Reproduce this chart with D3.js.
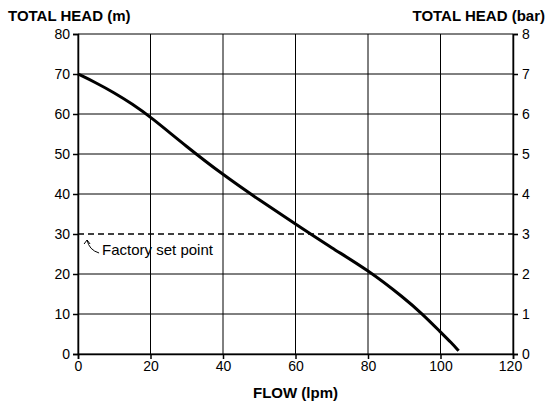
<!DOCTYPE html>
<html><head><meta charset="utf-8">
<script src="https://cdn.jsdelivr.net/npm/d3@7"></script>
<style>body{margin:0;background:#fff}text{font-family:Arial,"Liberation Sans",sans-serif}</style>
</head><body><svg id="chart" width="551" height="407"></svg>
<script>
const flow = [0, 5, 10, 15, 20, 30, 40, 50, 60, 70, 80, 90, 95, 100, 103, 105];
const headM = [70, 67.8, 65.3, 62.5, 59.3, 51.8, 44.8, 38.5, 32.5, 26.5, 21, 14, 10, 5.5, 2.8, 0.8];
const xTicks = [0, 20, 40, 60, 80, 100, 120];
const yTicks = [0, 10, 20, 30, 40, 50, 60, 70, 80];
const barTicks = [0, 1, 2, 3, 4, 5, 6, 7, 8];
const setPoint = 30;

const svg = d3.select('#chart');
const m = {l: 78, r: 38, t: 34, b: 53};
const w = 551 - m.l - m.r, h = 407 - m.t - m.b;
const x = d3.scaleLinear().domain([0, 120]).range([0, w]);
const y = d3.scaleLinear().domain([0, 80]).range([h, 0]);
const y2 = d3.scaleLinear().domain([0, 8]).range([h, 0]);
const g = svg.append('g').attr('transform', `translate(${m.l},${m.t})`);

// grid
g.selectAll('.vg').data(xTicks).enter().append('line')
  .attr('x1', d => x(d)).attr('x2', d => x(d)).attr('y1', 0).attr('y2', h)
  .attr('stroke', '#000').attr('stroke-width', 1);
g.selectAll('.hg').data(yTicks.filter(d => d !== setPoint)).enter().append('line')
  .attr('x1', 0).attr('x2', w).attr('y1', d => y(d)).attr('y2', d => y(d))
  .attr('stroke', '#000').attr('stroke-width', 1);
g.append('line').attr('x1', 0).attr('x2', w).attr('y1', y(setPoint)).attr('y2', y(setPoint))
  .attr('stroke', '#000').attr('stroke-width', 1.3).attr('stroke-dasharray', '6,4');

const ax = g.append('g').attr('transform', `translate(0,${h})`)
  .call(d3.axisBottom(x).tickValues(xTicks).tickSize(5).tickPadding(2));
const ayl = g.append('g').call(d3.axisLeft(y).tickValues(yTicks).tickSize(5).tickPadding(3));
const ayr = g.append('g').attr('transform', `translate(${w},0)`)
  .call(d3.axisRight(y2).tickValues(barTicks).tickSize(5).tickPadding(4));
[ax, ayl, ayr].forEach(a => {
  a.selectAll('text').attr('font-size', 14).attr('fill', '#000');
  a.selectAll('line,path').attr('stroke', '#000').attr('stroke-width', 1.5);
});
ax.selectAll('text').filter(d => d === 120).attr('dx', -3);

g.append('path').datum(flow.map((f, i) => [f, headM[i]]))
  .attr('d', d3.line().x(d => x(d[0])).y(d => y(d[1])).curve(d3.curveBasis))
  .attr('fill', 'none').attr('stroke', '#000').attr('stroke-width', 3);

// annotation
g.append('path').attr('d', `M${x(2.5)},${y(setPoint) + 6} q2,10 12,13`)
  .attr('fill', 'none').attr('stroke', '#000').attr('stroke-width', 1);
g.append('path').attr('d', `M${x(2.5) - 3},${y(setPoint) + 10} L${x(2.5)},${y(setPoint) + 6} L${x(2.5) + 3},${y(setPoint) + 10}`)
  .attr('fill', 'none').attr('stroke', '#000').attr('stroke-width', 1);
g.append('text').attr('x', x(2.5) + 15).attr('y', y(setPoint) + 21)
  .attr('font-size', 15).text('Factory set point');

svg.append('text').attr('x', 8).attr('y', 21).attr('font-size', 15).attr('font-weight', 'bold').text('TOTAL HEAD (m)');
svg.append('text').attr('x', 545).attr('y', 21).attr('text-anchor', 'end').attr('font-size', 15).attr('font-weight', 'bold').text('TOTAL HEAD (bar)');
svg.append('text').attr('x', m.l + w / 2).attr('y', 398).attr('text-anchor', 'middle').attr('font-size', 15).attr('font-weight', 'bold').text('FLOW (lpm)');
</script></body></html>
